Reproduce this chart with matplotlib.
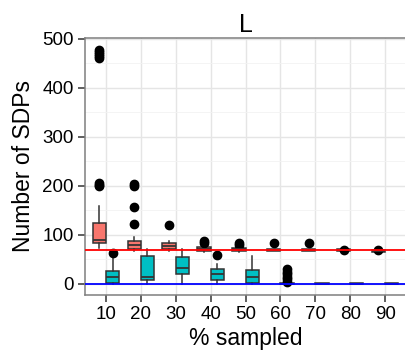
import matplotlib
matplotlib.use("Agg")
import matplotlib.pyplot as plt
import numpy as np

plt.rcParams['font.family'] = ['Liberation Sans', 'DejaVu Sans']

categories = ["10", "20", "30", "40", "50", "60", "70", "80", "90"]

# red group (summary stats): q1, median, q3, whisker low, whisker high
red_q1 = [84, 72, 71, 68, 68, 67, 67, 67, 66]
red_med = [90, 79, 77, 72, 72, 69, 69, 69, 68]
red_q3 = [125, 88, 84, 75, 74, 71, 71, 71, 70]
red_lo = [73, 68, 68, 66, 66, 67, 67, 67, 66]
red_hi = [160, 95, 88, 79, 80, 72, 72, 71, 70]
red_out = [[462, 466, 470, 474, 478, 200, 203, 207],
           [205, 200, 158, 122],
           [121],
           [84, 88],
           [80, 84],
           [83],
           [83],
           [70],
           [69]]

teal_q1 = [1, 8, 20, 8, 1, 0, 0, 0, 0]
teal_med = [15, 15, 33, 20, 14, 0, 0, 0, 0]
teal_q3 = [26, 58, 56, 30, 29, 1, 1, 1, 1]
teal_lo = [0, 0, 0, 0, 0, 0, 0, 0, 0]
teal_hi = [63, 71, 71, 40, 57, 1, 1, 1, 1]
teal_out = [[63], [], [], [60], [], [5, 10, 15, 20, 25, 30], [], [], []]

red_ref = 69
blue_ref = 0

yticks = [0, 100, 200, 300, 400, 500]

fig = plt.figure(figsize=(4.06, 3.62), dpi=100)
ax = fig.add_axes([85/406, 67/362, 321/406, 257/362])

pos = np.arange(1, len(categories) + 1)

def stats(q1, med, q3, lo, hi, out):
    return [dict(q1=a, med=b, q3=c, whislo=d, whishi=e, fliers=f)
            for a, b, c, d, e, f in zip(q1, med, q3, lo, hi, out)]

common = dict(widths=0.38, patch_artist=True, showfliers=True,
              medianprops=dict(color="#333333", linewidth=1.3),
              whiskerprops=dict(color="#333333", linewidth=1.1),
              capprops=dict(linewidth=0),
              flierprops=dict(marker='o', markerfacecolor='black', markeredgecolor='black',
                              markersize=6, linestyle='none'),
              boxprops=dict(edgecolor="#333333", linewidth=1.1), zorder=3)

b1 = ax.bxp(stats(red_q1, red_med, red_q3, red_lo, red_hi, red_out), positions=pos - 0.19, **common)
for p in b1['boxes']:
    p.set_facecolor("#F8766D")
b2 = ax.bxp(stats(teal_q1, teal_med, teal_q3, teal_lo, teal_hi, teal_out), positions=pos + 0.19, **common)
for p in b2['boxes']:
    p.set_facecolor("#00BFC4")

ax.axhline(red_ref, color="#FF0000", linewidth=1.3, zorder=4)
ax.axhline(blue_ref, color="#0000FF", linewidth=1.3, zorder=4)

ax.set_xlim(0.4, 9.6)
ax.set_ylim(-22.5, 502)
ax.set_xticks(pos)
ax.set_xticklabels(categories)
ax.set_yticks(yticks)
ax.set_yticks([50, 150, 250, 350, 450], minor=True)
ax.tick_params(axis='both', which='major', labelsize=13.5, length=5, width=1.1,
               color="#333333", labelcolor="black", direction='out', pad=3)
ax.tick_params(axis='y', which='minor', length=0)
ax.grid(True, which='major', color="#E5E5E5", linewidth=1.0, zorder=0)
ax.grid(True, which='minor', axis='y', color="#F2F2F2", linewidth=0.6, zorder=0)
ax.set_axisbelow(True)
for s in ax.spines.values():
    s.set_color("#7F7F7F")
    s.set_linewidth(1.1)

ax.set_xlabel("% sampled", fontsize=16.5, labelpad=3)
ax.set_ylabel("Number of SDPs", fontsize=16.5, labelpad=5)
ax.set_title("L", fontsize=18, pad=4)

fig.savefig("out.png", dpi=100)
